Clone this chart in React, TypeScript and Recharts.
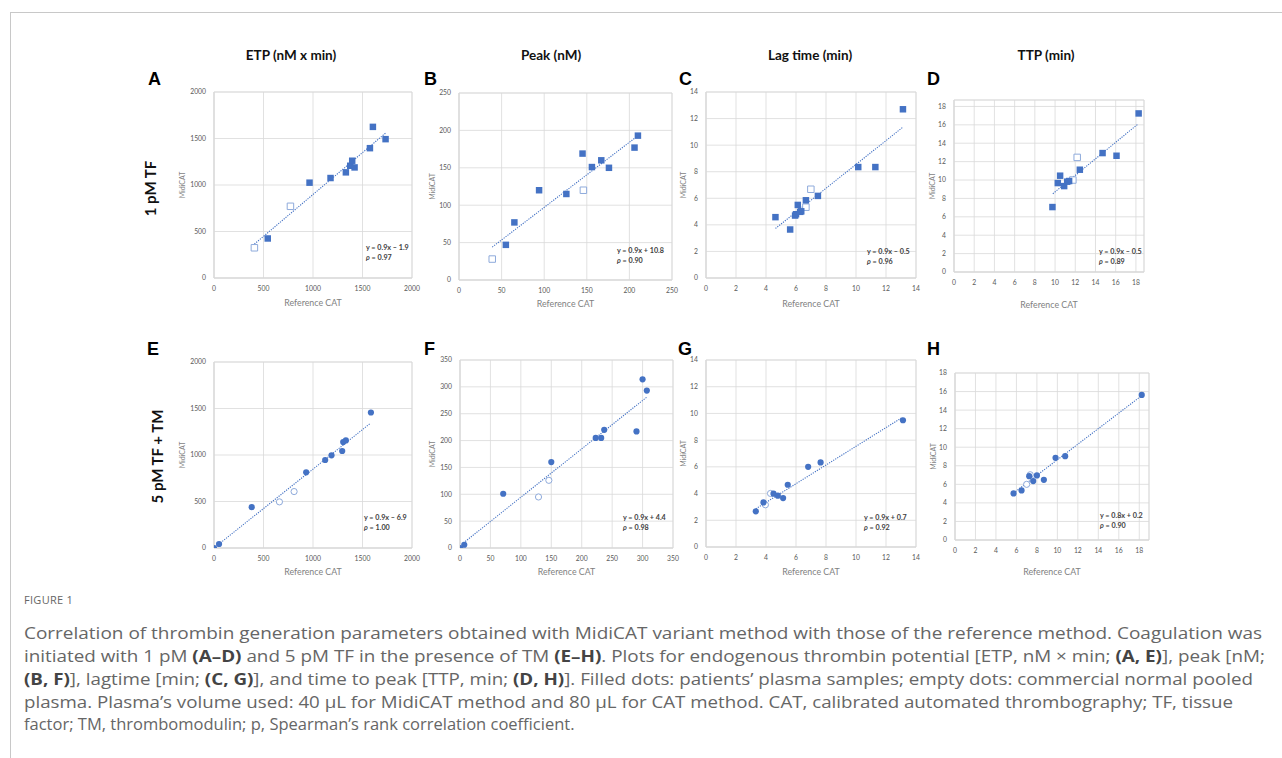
import React from 'react';
import {
  ScatterChart,
  Scatter,
  XAxis,
  YAxis,
  ZAxis,
  CartesianGrid,
  ReferenceLine,
  ReferenceArea,
  Label,
} from 'recharts';

// values, [reference CAT, MidiCAT]
const etp1Filled = [[543, 425], [965, 1025], [1177, 1075], [1332, 1136], [1376, 1207], [1396, 1261], [1420, 1189], [1575, 1396], [1605, 1625], [1733, 1493]];
const etp1Empty = [[408, 325], [772, 771]];
const etp1Trend = [[408, 365], [1733, 1558]];

const peak1Filled = [[55, 47], [65, 77], [94, 120], [126, 115], [145, 169], [156, 151], [167, 160], [176, 150], [206, 177], [210, 193]];
const peak1Empty = [[39, 28], [146, 120]];
const peak1Trend = [[39, 44], [209, 192]];

const lag1Filled = [[4.63, 4.58], [5.61, 3.65], [5.94, 4.7], [6.0, 4.8], [6.12, 5.5], [6.28, 4.98], [6.35, 5.02], [6.66, 5.85], [7.46, 6.18], [10.15, 8.35], [11.29, 8.35], [13.13, 12.7]];
const lag1Empty = [[6.99, 6.68], [6.66, 5.33]];
const lag1Trend = [[4.63, 3.73], [13.1, 11.33]];

const ttp1Filled = [[9.74, 7.06], [10.27, 9.67], [10.5, 10.47], [10.9, 9.34], [11.2, 9.82], [11.39, 9.89], [12.45, 11.12], [14.7, 12.93], [16.08, 12.64], [18.27, 17.24]];
const ttp1Empty = [[12.19, 12.46], [11.76, 10.0]];
const ttp1Trend = [[9.78, 8.51], [18.2, 16.08]];

const etp5Filled = [[0, 0], [51, 43], [381, 439], [931, 814], [1123, 946], [1187, 996], [1295, 1043], [1305, 1139], [1332, 1157], [1585, 1457]];
const etp5Empty = [[661, 496], [809, 607]];
const etp5Trend = [[27, 23], [1578, 1339]];

const peak5Filled = [[0, 0], [7, 6], [71, 101], [150, 160], [223, 205], [232, 205], [237, 220], [290, 217], [300, 314], [307, 293]];
const peak5Empty = [[129, 95], [146, 126]];
const peak5Trend = [[5.5, 9.3], [307, 281]];

const lag5Filled = [[3.32, 2.67], [3.83, 3.34], [4.5, 3.99], [4.79, 3.84], [5.14, 3.66], [5.45, 4.66], [6.81, 6.0], [7.64, 6.33], [13.13, 9.49]];
const lag5Empty = [[4.3, 4.01], [3.96, 3.16]];
const lag5Trend = [[3.32, 2.86], [13.1, 9.71]];

const ttp5Filled = [[5.72, 5.02], [6.5, 5.34], [7.25, 6.88], [7.64, 6.35], [8.0, 6.96], [8.68, 6.49], [9.82, 8.86], [10.76, 9.04], [18.24, 15.64]];
const ttp5Empty = [[7.35, 7.03], [7.0, 6.0]];
const ttp5Trend = [[5.72, 5.06], [18.24, 15.56]];

const etpTicks = [0, 500, 1000, 1500, 2000];
const peak1Ticks = [0, 50, 100, 150, 200, 250];
const peak5Ticks = [0, 50, 100, 150, 200, 250, 300, 350];
const lagTicks = [0, 2, 4, 6, 8, 10, 12, 14];
const ttpTicks = [0, 2, 4, 6, 8, 10, 12, 14, 16, 18];

const columnTitles = ['ETP (nM x min)', 'Peak (nM)', 'Lag time (min)', 'TTP (min)'];
const rowTitles = ['1 pM TF', '5 pM TF + TM'];
const equations = ['y = 0.9x \u2013 1.9', 'y = 0.9x + 10.8', 'y = 0.9x \u2013 0.5', 'y = 0.9x \u2013 0.5', 'y = 0.9x \u2013 6.9', 'y = 0.9x + 4.4', 'y = 0.9x + 0.7', 'y = 0.8x + 0.2'];
const rhos = ['0.97', '0.90', '0.96', '0.89', '1.00', '0.98', '0.92', '0.90'];

const BLUE = '#4472C4';
const EMPTY = '#8eaadb';
const GRID = '#d9d9d9';
const FONT = 'Lato, "Open Sans", sans-serif';
const CAPTION_FONT = '"Open Sans", "Noto Sans", sans-serif';

const toPts = (arr: number[][]) => arr.map(([x, y]) => ({ x, y, z: 1 }));

interface PanelDef {
  letter: string;
  l: number; t: number; r: number; b: number;
  xMax: number; yMax: number;
  xTicks: number[]; yTicks: number[];
  filled: number[][]; empty: number[][]; trend: number[][];
  shape: 'square' | 'circle';
  xLabelBase: number; yLabelDx: number;
  eqX: number; eqY: number;
  letterX: number; letterY: number;
}

const panels: PanelDef[] = [
  { letter: 'A', l: 214, t: 92, r: 412, b: 278, xMax: 2000, yMax: 2000, xTicks: etpTicks, yTicks: etpTicks, filled: etp1Filled, empty: etp1Empty, trend: etp1Trend, shape: 'square', xLabelBase: 306, yLabelDx: 31, eqX: 366, eqY: 249.5, letterX: 148, letterY: 85 },
  { letter: 'B', l: 459, t: 93, r: 672, b: 280, xMax: 250, yMax: 250, xTicks: peak1Ticks, yTicks: peak1Ticks, filled: peak1Filled, empty: peak1Empty, trend: peak1Trend, shape: 'square', xLabelBase: 307, yLabelDx: 26, eqX: 617, eqY: 253, letterX: 424, letterY: 85 },
  { letter: 'C', l: 706, t: 92, r: 916, b: 278, xMax: 14, yMax: 14, xTicks: lagTicks, yTicks: lagTicks, filled: lag1Filled, empty: lag1Empty, trend: lag1Trend, shape: 'square', xLabelBase: 307, yLabelDx: 22, eqX: 867, eqY: 254, letterX: 679, letterY: 85 },
  { letter: 'D', l: 954, t: 100, r: 1144, b: 272, xMax: 18.8, yMax: 18.7, xTicks: ttpTicks, yTicks: ttpTicks, filled: ttp1Filled, empty: ttp1Empty, trend: ttp1Trend, shape: 'square', xLabelBase: 308, yLabelDx: 21, eqX: 1099, eqY: 254, letterX: 927, letterY: 85 },
  { letter: 'E', l: 214, t: 362, r: 412, b: 548, xMax: 2000, yMax: 2000, xTicks: etpTicks, yTicks: etpTicks, filled: etp5Filled, empty: etp5Empty, trend: etp5Trend, shape: 'circle', xLabelBase: 575, yLabelDx: 31, eqX: 364, eqY: 519.5, letterX: 147, letterY: 355 },
  { letter: 'F', l: 460, t: 360, r: 673, b: 548, xMax: 350, yMax: 350, xTicks: peak5Ticks, yTicks: peak5Ticks, filled: peak5Filled, empty: peak5Empty, trend: peak5Trend, shape: 'circle', xLabelBase: 575, yLabelDx: 27, eqX: 623, eqY: 519.5, letterX: 424, letterY: 355 },
  { letter: 'G', l: 706, t: 360, r: 916, b: 547, xMax: 14, yMax: 14, xTicks: lagTicks, yTicks: lagTicks, filled: lag5Filled, empty: lag5Empty, trend: lag5Trend, shape: 'circle', xLabelBase: 575, yLabelDx: 22, eqX: 864, eqY: 519.5, letterX: 678, letterY: 355 },
  { letter: 'H', l: 955, t: 373, r: 1149, b: 540, xMax: 18.95, yMax: 18, xTicks: ttpTicks, yTicks: ttpTicks, filled: ttp5Filled, empty: ttp5Empty, trend: ttp5Trend, shape: 'circle', xLabelBase: 575, yLabelDx: 21, eqX: 1100, eqY: 517.5, letterX: 927, letterY: 355 },
];

const Y_W = 40;
const X_H = 40;
const M_T = 10;
const M_R = 10;

const tickStyle = { fontSize: 6.8, fill: '#595959', fontFamily: FONT };

const Panel: React.FC<{ p: PanelDef }> = ({ p }) => {
  const w = p.r - p.l;
  const h = p.b - p.t;
  const size = p.shape === 'square' ? 42 : 30;
  return (
    <div style={{ position: 'absolute', left: p.l - Y_W, top: p.t - M_T }}>
      <ScatterChart
        width={w + Y_W + M_R}
        height={h + M_T + X_H}
        margin={{ top: M_T, right: M_R, left: 0, bottom: 0 }}
      >
        <CartesianGrid stroke={GRID} strokeWidth={0.8} />
        <XAxis
          type="number"
          dataKey="x"
          domain={[0, p.xMax]}
          ticks={p.xTicks}
          interval={0}
          height={X_H}
          axisLine={{ stroke: GRID }}
          tickLine={false}
          tick={tickStyle}
          allowDataOverflow
        >
          <Label
            value="Reference CAT"
            position="insideBottom"
            offset={p.b + X_H - p.xLabelBase}
            style={{ fontSize: 8.8, fill: '#7f7f7f', fontFamily: FONT }}
          />
        </XAxis>
        <YAxis
          type="number"
          dataKey="y"
          domain={[0, p.yMax]}
          ticks={p.yTicks}
          interval={0}
          width={Y_W}
          axisLine={{ stroke: GRID }}
          tickLine={false}
          tick={tickStyle}
          allowDataOverflow
        >
          <Label
            value="MidiCAT"
            angle={-90}
            position="insideLeft"
            offset={Y_W - p.yLabelDx}
            style={{ fontSize: 7, fill: '#7f7f7f', fontFamily: FONT, textAnchor: 'middle' }}
          />
        </YAxis>
        <ZAxis type="number" dataKey="z" range={[size, size]} />
        <ReferenceArea x1={0} x2={p.xMax} y1={0} y2={p.yMax} fill="none" stroke={GRID} strokeWidth={0.8} />
        <ReferenceLine
          segment={[{ x: p.trend[0][0], y: p.trend[0][1] }, { x: p.trend[1][0], y: p.trend[1][1] }]}
          stroke={BLUE}
          strokeWidth={1.1}
          strokeDasharray="1.2 1.2"
        />
        <Scatter data={toPts(p.empty)} shape={p.shape} fill="#ffffff" stroke={EMPTY} strokeWidth={1} isAnimationActive={false} />
        <Scatter data={toPts(p.filled)} shape={p.shape} fill={BLUE} isAnimationActive={false} />
      </ScatterChart>
    </div>
  );
};

const captionColor = '#666666';
const B: React.FC<{ children: React.ReactNode }> = ({ children }) => (
  <tspan fontWeight={700} fill="#444444">{children}</tspan>
);

export default function App() {
  const headerX = [291, 551, 810, 1046];
  return (
    <div style={{ position: 'absolute', left: 0, top: 0, width: 1282, height: 758, background: '#fff', overflow: 'hidden' }}>
      <div style={{ position: 'absolute', left: 10, top: 12, width: 1272, height: 746, borderTop: '1px solid #c8c8c8', borderLeft: '1px solid #c8c8c8' }} />
      {panels.map((p) => (
        <Panel key={p.letter} p={p} />
      ))}
      <svg width={1282} height={758} style={{ position: 'absolute', left: 0, top: 0, pointerEvents: 'none' }}>
        {columnTitles.map((t, i) => (
          <text key={t} x={headerX[i]} y={60} textAnchor="middle" fontFamily={FONT} fontWeight={700} fontSize={13.5} fill="#111">
            {t}
          </text>
        ))}
        <text transform="translate(156,188.5) rotate(-90)" textAnchor="middle" fontFamily={FONT} fontWeight={700} fontSize={15} fill="#111">
          {rowTitles[0]}
        </text>
        <text transform="translate(162.5,456.5) rotate(-90)" textAnchor="middle" fontFamily={FONT} fontWeight={700} fontSize={15} fill="#111">
          {rowTitles[1]}
        </text>
        {panels.map((p, i) => (
          <g key={p.letter}>
            <text x={p.letterX} y={p.letterY} fontFamily='"Liberation Sans", Arial, sans-serif' fontWeight={700} fontSize={18} fill="#000">
              {p.letter}
            </text>
            <text x={p.eqX} y={p.eqY} fontFamily={FONT} fontWeight={700} fontSize={7.2} fill="#404040">
              {equations[i]}
            </text>
            <text x={p.eqX} y={p.eqY + 10} fontFamily={FONT} fontWeight={700} fontSize={7.2} fill="#404040">
              <tspan fontStyle="italic">{'\u03C1'}</tspan> = {rhos[i]}
            </text>
          </g>
        ))}
        <g fontFamily={CAPTION_FONT} fontSize={16.5} fill={captionColor}>
          <text x={24} y={604} fontSize={11} letterSpacing={0.3}>FIGURE 1</text>
          <text x={24} y={639} textLength={1238} lengthAdjust="spacingAndGlyphs">
            Correlation of thrombin generation parameters obtained with MidiCAT variant method with those of the reference method. Coagulation was
          </text>
          <text x={24} y={662} textLength={1241} lengthAdjust="spacingAndGlyphs">
            initiated with 1 pM <B>(A–D)</B> and 5 pM TF in the presence of TM <B>(E–H)</B>. Plots for endogenous thrombin potential [ETP, nM × min; <B>(A, E)</B>], peak [nM;
          </text>
          <text x={24} y={685} textLength={1229} lengthAdjust="spacingAndGlyphs">
            <B>(B, F)</B>], lagtime [min; <B>(C, G)</B>], and time to peak [TTP, min; <B>(D, H)</B>]. Filled dots: patients’ plasma samples; empty dots: commercial normal pooled
          </text>
          <text x={24} y={708} textLength={1209} lengthAdjust="spacingAndGlyphs">
            plasma. Plasma’s volume used: 40 μL for MidiCAT method and 80 μL for CAT method. CAT, calibrated automated thrombography; TF, tissue
          </text>
          <text x={24} y={730}>
            factor; TM, thrombomodulin; p, Spearman’s rank correlation coefficient.
          </text>
        </g>
      </svg>
    </div>
  );
}
